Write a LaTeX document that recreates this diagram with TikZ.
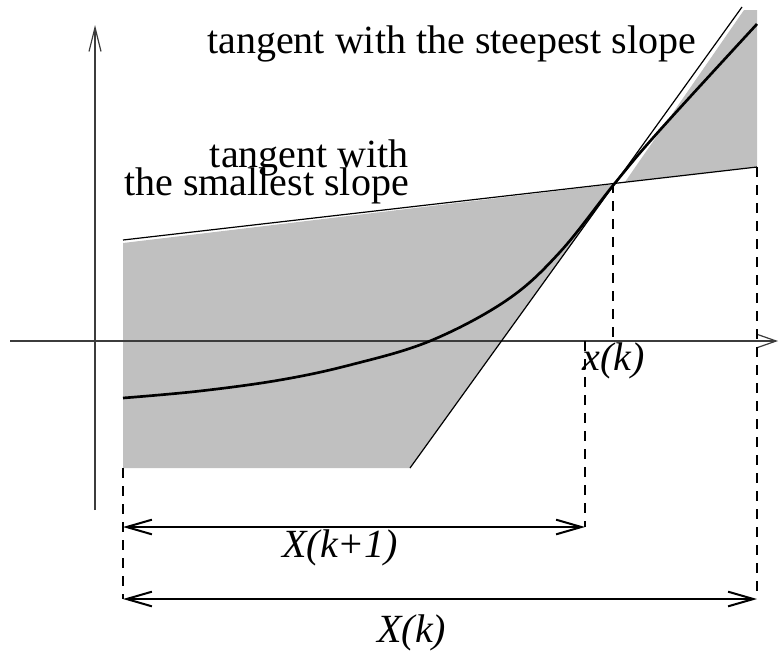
\documentclass[tikz,border=0pt]{standalone}
\usepackage{fontspec}
\setmainfont{Liberation Serif}
\usetikzlibrary{arrows.meta}
\definecolor{shadegray}{RGB}{192,192,192}
\definecolor{axisgray}{RGB}{60,60,60}
\begin{document}
\begin{tikzpicture}[x=0.75pt,y=-0.75pt,
  axisline/.style={draw=axisgray,line width=0.9pt},
  tangentline/.style={draw=black,line width=0.9pt},
  curveline/.style={draw=black,line width=2pt},
  dashline/.style={draw=black,line width=0.8pt,dash pattern=on 7.5pt off 6pt},
  dimline/.style={draw=black,line width=1.5pt,{Straight Barb[length=19pt,width=11pt]}-{Straight Barb[length=19pt,width=11pt]}},
  lbl/.style={inner sep=0pt,font=\fontsize{30}{30}\selectfont},
  ilbl/.style={inner sep=0pt,font=\fontsize{30}{30}\selectfont\itshape}]
\useasboundingbox (0,0) rectangle (780,651);
% gray region
\fill[shadegray] (123,243) -- (615,184) -- (410,468) -- (123,468) -- cycle;
\fill[shadegray] (625,182) -- (757,167) -- (757,10) -- (744,10) -- cycle;
% coordinates
\coordinate (xl) at (10,341);
\coordinate (xr) at (778,341);
\coordinate (yb) at (95,510);
\coordinate (yt) at (95,25);
\coordinate (sL) at (123,240);
\coordinate (sR) at (757,167);
\coordinate (tB) at (410,468);
\coordinate (tT) at (742,7);
\coordinate (d1t) at (123,468);
\coordinate (d1b) at (123,599);
\coordinate (d2t) at (585,341);
\coordinate (d2b) at (585,527);
\coordinate (d3t) at (613,183);
\coordinate (d3b) at (613,341);
\coordinate (d4t) at (757,167);
\coordinate (d4b) at (757,599);
\coordinate (a1l) at (123,527);
\coordinate (a1r) at (585,527);
\coordinate (a2l) at (123,599);
\coordinate (a2r) at (757,599);
% axes
\draw[axisline,-{Straight Barb[length=15pt,width=10.5pt]}] (xl) -- (xr);
\draw[axisline,-{Straight Barb[length=18pt,width=9pt]}] (yb) -- (yt);
% dashed
\draw[dashline] (d1t) -- (d1b);
\draw[dashline] (d2t) -- (d2b);
\draw[dashline] (d3t) -- (d3b);
\draw[dashline] (d4t) -- (d4b);
% tangents
\draw[tangentline] (sL) -- (sR);
\draw[tangentline] (tB) -- (tT);
% curve
\draw[curveline] plot[smooth,tension=0.6] coordinates {(123,398) (200,391) (280,380) (350,365) (430,341) (507,300) (560,252) (615,183) (660,130) (757,24)};
% dimension arrows
\draw[dimline] (a1l) -- (a1r);
\draw[dimline] (a2l) -- (a2r);
% labels
\node[lbl,anchor=base west] (steep) at (207,53) {tangent with the steepest slope};
\node[lbl,anchor=base east] (small1) at (409,167) {tangent with};
\node[lbl,anchor=base east] (small2) at (409,195) {the smallest slope};
\node[ilbl,anchor=base west] (xk) at (582,370) {x(k)};
\node[ilbl,anchor=base west] (Xk1) at (282,557) {X(k+1)};
\node[ilbl,anchor=base west] (Xk) at (377,642) {X(k)};
\end{tikzpicture}
\end{document}
